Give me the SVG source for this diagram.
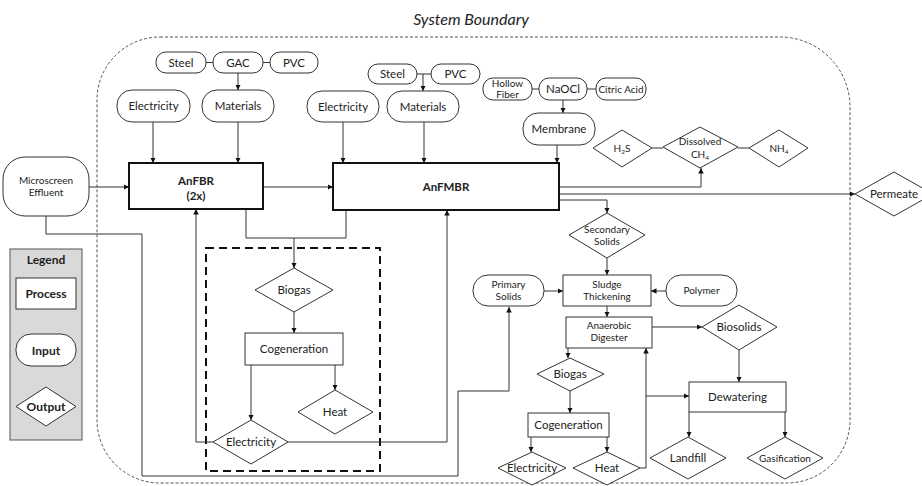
<svg xmlns="http://www.w3.org/2000/svg" width="922" height="486" viewBox="0 0 922 486">
<style>
text{font-family:Lato,"Open Sans","Liberation Sans",sans-serif;fill:#222;text-anchor:middle;font-size:11.5px}
.sm{font-size:10px}
.b{font-weight:bold}
.inp{fill:#fff;stroke:#333;stroke-width:1}
.proc{fill:#fff;stroke:#333;stroke-width:1}
.main{fill:#fff;stroke:#111;stroke-width:2}
.out{fill:#fff;stroke:#333;stroke-width:1}
.ln{fill:none;stroke:#333;stroke-width:1}
.arr{fill:none;stroke:#333;stroke-width:1;marker-end:url(#ah)}
</style>
<defs>
<marker id="ah" viewBox="0 0 10 10" refX="10" refY="5" markerWidth="5.5" markerHeight="5.5" orient="auto" markerUnits="userSpaceOnUse"><path d="M0,0 L10,5 L0,10 z" fill="#111"/></marker>
</defs>
<rect width="922" height="486" fill="#fff"/>

<g id="boundary">
<path d="M160,37 H780 A70,70 0 0 1 850,107 V420 A63,63 0 0 1 787,483 H160 A63,63 0 0 1 97,420 V100 A63,63 0 0 1 160,37 Z" fill="none" stroke="#555" stroke-width="1" stroke-dasharray="3,2"/>
<text x="471" y="25" style="font-size:16px;font-style:italic">System Boundary</text>
</g>

<g id="cogen-box">
<rect x="206" y="248" width="174" height="223" fill="none" stroke="#111" stroke-width="2" stroke-dasharray="8,5"/>
</g>

<g id="connectors">
<path class="ln" d="M206,62.5 H213 M263,62.5 H270"/>
<path class="arr" d="M238,73 V90"/>
<path class="arr" d="M153,122 V163"/>
<path class="arr" d="M238,122 V163"/>
<path class="arr" d="M89,187 H129"/>
<path class="arr" d="M263,187 H333"/>
<path class="ln" d="M417,74 H431"/>
<path class="arr" d="M423,74 V91"/>
<path class="arr" d="M343,122 V163"/>
<path class="arr" d="M424,122 V163"/>
<path class="ln" d="M532,89 H539 M587,89 H596"/>
<path class="arr" d="M563,100 V113"/>
<path class="arr" d="M557,145 V163"/>
<path class="ln" d="M652,148 H663 M738,148 H749"/>
<path class="arr" d="M559,187 H701 V168"/>
<path class="arr" d="M559,194 H855"/>
<path class="arr" d="M559,200 H607 V213"/>
<path class="arr" d="M607,258 V275"/>
<path class="arr" d="M544,291 H563"/>
<path class="arr" d="M666,291 H651"/>
<path class="arr" d="M607,306 V317"/>
<path class="arr" d="M652,327 H702"/>
<path class="arr" d="M739,350 V382"/>
<path class="arr" d="M689,412 V437"/>
<path class="arr" d="M785,412 V437"/>
<path class="arr" d="M568,348 V358"/>
<path class="arr" d="M570,391 V413"/>
<path class="arr" d="M531,437 V452"/>
<path class="arr" d="M607,437 V452"/>
<path class="arr" d="M640,468 H646 V348"/>
<path class="arr" d="M646,396 H689"/>
<path class="arr" d="M46,216 V234 H142 V476 H458 V391 H509 V307"/>
<path class="ln" d="M246,209 V238 H346 V210"/>
<path class="arr" d="M294,238 V268"/>
<path class="arr" d="M294,312 V333"/>
<path class="arr" d="M251,365 V420"/>
<path class="arr" d="M335,365 V390"/>
<path class="arr" d="M213,442 H196 V209"/>
<path class="arr" d="M288,442 H447 V210"/>
</g>

<g id="steel1"><rect class="inp" x="156" y="52" width="50" height="21" rx="10"/><text x="181" y="66.5">Steel</text></g>
<g id="gac"><rect class="inp" x="213" y="52" width="50" height="21" rx="10"/><text x="238" y="66.5">GAC</text></g>
<g id="pvc1"><rect class="inp" x="270" y="52" width="48" height="21" rx="10"/><text x="294" y="66.5">PVC</text></g>
<g id="electricity1"><rect class="inp" x="117" y="90" width="73" height="32" rx="15"/><text x="153.5" y="110">Electricity</text></g>
<g id="materials1"><rect class="inp" x="202" y="90" width="72" height="32" rx="15"/><text x="238" y="110">Materials</text></g>
<g id="microscreen"><rect class="inp" x="3" y="157" width="86" height="59" rx="22"/><text class="sm" x="46" y="184">Microscreen</text><text class="sm" x="46" y="196">Effluent</text></g>
<g id="anfbr"><rect class="main" x="129" y="163" width="134" height="46"/><text class="b" x="196" y="185">AnFBR</text><text class="b" x="196" y="200">(2x)</text></g>

<g id="steel2"><rect class="inp" x="368" y="64" width="49" height="20" rx="10"/><text x="392.5" y="78">Steel</text></g>
<g id="pvc2"><rect class="inp" x="431" y="64" width="49" height="20" rx="10"/><text x="455.5" y="78">PVC</text></g>
<g id="electricity2"><rect class="inp" x="307" y="91" width="72" height="31" rx="15"/><text x="343" y="110.5">Electricity</text></g>
<g id="materials2"><rect class="inp" x="387" y="91" width="72" height="31" rx="15"/><text x="423" y="110.5">Materials</text></g>
<g id="hollowfiber"><rect class="inp" x="483" y="78" width="49" height="22" rx="10"/><text class="sm" x="507.5" y="87">Hollow</text><text class="sm" x="507.5" y="97.5">Fiber</text></g>
<g id="naocl"><rect class="inp" x="539" y="78" width="48" height="22" rx="10"/><text x="563" y="93">NaOCl</text></g>
<g id="citric"><rect class="inp" x="596" y="78" width="50" height="22" rx="10"/><text class="sm" x="621" y="92.5">Citric Acid</text></g>
<g id="membrane"><rect class="inp" x="523" y="113" width="72" height="32" rx="15"/><text x="559" y="133">Membrane</text></g>
<g id="anfmbr"><rect class="main" x="333" y="163" width="226" height="47"/><text class="b" x="446" y="191">AnFMBR</text></g>

<g id="h2s"><path class="out" d="M593,148 L622,130 L652,148 L622,167 Z"/><text class="sm" x="622" y="151.5">H<tspan font-size="6.5" dy="2">2</tspan><tspan dy="-2">S</tspan></text></g>
<g id="ch4"><path class="out" d="M663,147 L700,127 L738,147 L700,168 Z"/><text class="sm" x="700" y="145">Dissolved</text><text class="sm" x="700" y="158">CH<tspan font-size="6.5" dy="2">4</tspan></text></g>
<g id="nh4"><path class="out" d="M749,148 L779,130 L808,148 L779,167 Z"/><text class="sm" x="779" y="151.5">NH<tspan font-size="6.5" dy="2">4</tspan></text></g>
<g id="permeate"><path class="out" d="M855,194 L894,172 L933,194 L894,216 Z"/><text x="894" y="198">Permeate</text></g>

<g id="secondary"><path class="out" d="M569,235 L607,213 L645,235 L607,258 Z"/><text class="sm" x="607" y="233">Secondary</text><text class="sm" x="607" y="245">Solids</text></g>
<g id="primary"><rect class="inp" x="473" y="275" width="71" height="31" rx="15"/><text class="sm" x="508.5" y="288">Primary</text><text class="sm" x="508.5" y="299.5">Solids</text></g>
<g id="sludge"><rect class="proc" x="563" y="275" width="88" height="31"/><text class="sm" x="607" y="288">Sludge</text><text class="sm" x="607" y="299.5">Thickening</text></g>
<g id="polymer"><rect class="inp" x="666" y="275" width="71" height="31" rx="15"/><text class="sm" x="701.5" y="294">Polymer</text></g>
<g id="digester"><rect class="proc" x="566" y="317" width="86" height="31"/><text class="sm" x="609" y="329">Anaerobic</text><text class="sm" x="609" y="341">Digester</text></g>
<g id="biosolids"><path class="out" d="M702,327 L739,305 L777,327 L739,350 Z"/><text x="739" y="331">Biosolids</text></g>
<g id="dewatering"><rect class="proc" x="689" y="382" width="97" height="30"/><text x="737.5" y="401">Dewatering</text></g>
<g id="landfill"><path class="out" d="M650,458 L688,437 L726,458 L688,479 Z"/><text x="688" y="462">Landfill</text></g>
<g id="gasification"><path class="out" d="M747,458 L785,437 L823,458 L785,479 Z"/><text class="sm" x="785" y="461.5">Gasification</text></g>
<g id="biogas2"><path class="out" d="M537,374 L570,358 L604,374 L570,391 Z"/><text x="570" y="378">Biogas</text></g>
<g id="cogen2"><rect class="proc" x="528" y="413" width="81" height="24"/><text x="568.5" y="429">Cogeneration</text></g>
<g id="electricity4"><path class="out" d="M498,468 L532,452 L566,468 L532,485 Z"/><text x="532" y="472">Electricity</text></g>
<g id="heat2"><path class="out" d="M573,468 L607,452 L640,468 L607,485 Z"/><text x="607" y="472">Heat</text></g>

<g id="biogas1"><path class="out" d="M255,290 L294,268 L333,290 L294,312 Z"/><text x="294" y="294">Biogas</text></g>
<g id="cogen1"><rect class="proc" x="245" y="333" width="98" height="32"/><text x="294" y="353">Cogeneration</text></g>
<g id="heat1"><path class="out" d="M298,412 L335,390 L373,412 L335,434 Z"/><text x="335" y="416">Heat</text></g>
<g id="electricity3"><path class="out" d="M213,442 L251,420 L288,442 L251,464 Z"/><text x="251" y="446">Electricity</text></g>

<g id="legend">
<rect x="10" y="249" width="72" height="191" fill="#d9d9d9" stroke="#555" stroke-width="1"/>
<text class="b" x="46" y="264" style="font-size:12px">Legend</text>
<g id="legend-process"><rect x="16" y="278" width="60" height="31" fill="#fff" stroke="#333"/><text class="b" x="46" y="298" style="font-size:12px">Process</text></g>
<g id="legend-input"><rect x="16" y="334" width="60" height="32" rx="15" fill="#fff" stroke="#333"/><text class="b" x="46" y="354.5" style="font-size:12px">Input</text></g>
<g id="legend-output"><path d="M16,406.5 L46,387 L76,406.5 L46,426 Z" fill="#fff" stroke="#333"/><text class="b" x="46" y="411" style="font-size:12px">Output</text></g>
</g>
</svg>
